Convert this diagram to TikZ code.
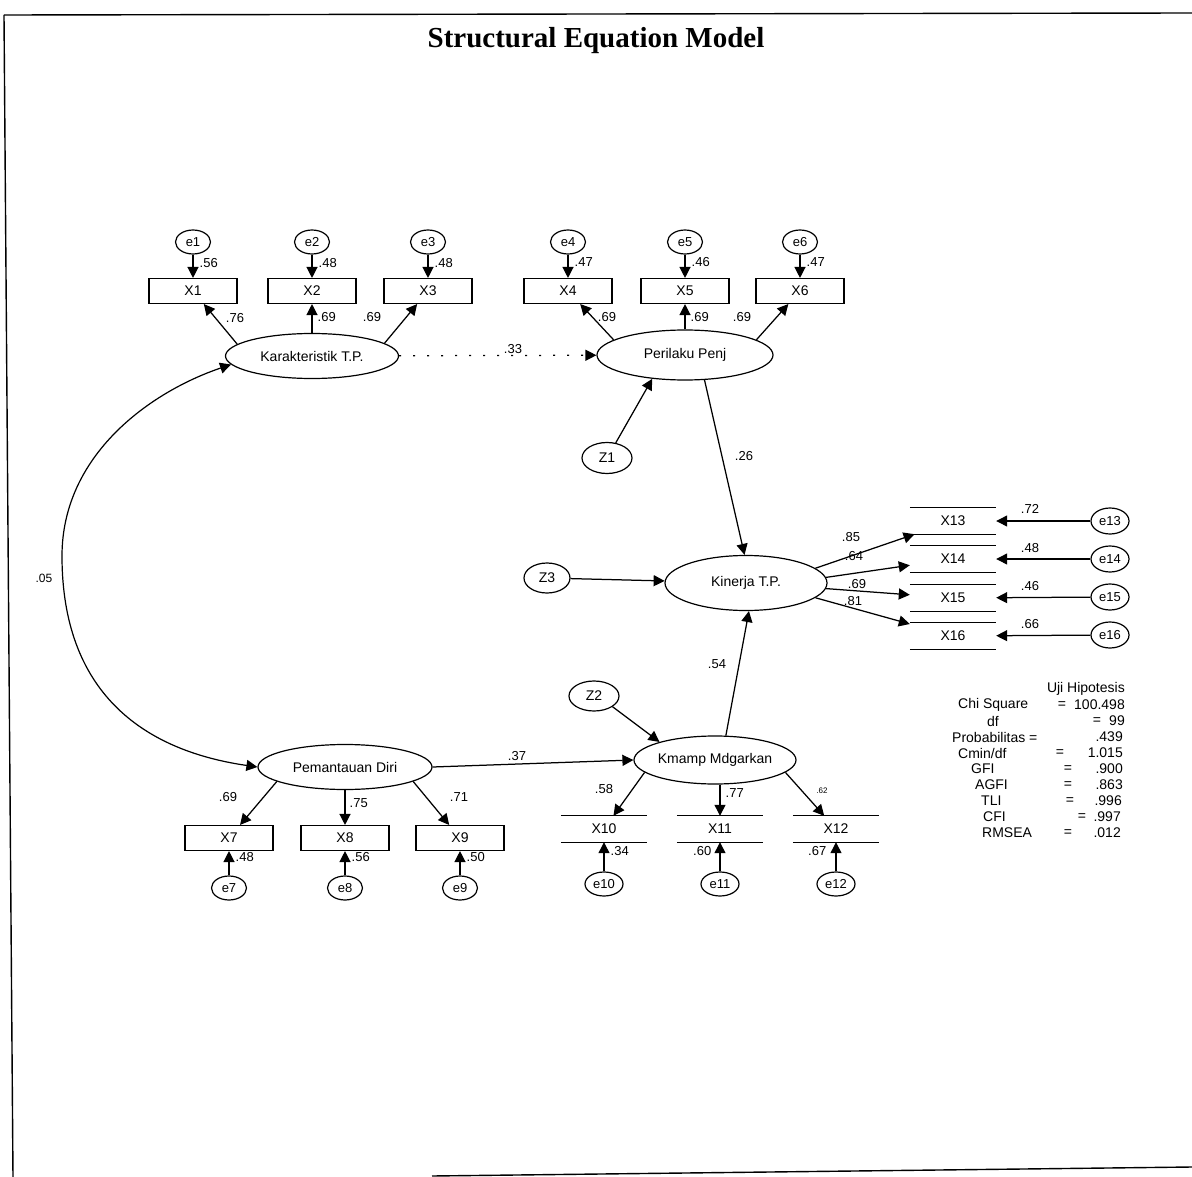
\documentclass[tikz,border=0pt]{standalone}
\usepackage{fontspec}
\setmainfont{Liberation Sans}
\newfontfamily\titlefont{Liberation Serif}
\usetikzlibrary{arrows.meta,shapes.geometric}

\tikzset{
  lat/.style={ellipse, draw, line width=1.2pt, inner sep=0pt, font=\fontsize{14}{16}\selectfont},
  obs/.style={rectangle, draw, line width=1.1pt, minimum width=88pt, minimum height=25pt, inner sep=0pt, font=\fontsize{14}{16}\selectfont},
  obsopen/.style={rectangle, minimum width=86pt, minimum height=26pt, inner sep=0pt, font=\fontsize{14}{16}\selectfont},
  boxedge/.style={line width=1.1pt},
  err/.style={ellipse, draw, line width=1.2pt, minimum width=35pt, minimum height=24pt, inner sep=0pt, font=\fontsize{13}{15}\selectfont},
  dist/.style={ellipse, draw, line width=1.2pt, minimum width=50pt, minimum height=31pt, inner sep=0pt, font=\fontsize{14}{16}\selectfont},
  pth/.style={line width=1.25pt, -{Triangle[length=11pt,width=11pt]}},
  cov/.style={line width=1.2pt, {Triangle[length=11pt,width=11pt]}-{Triangle[length=11pt,width=11pt]}},
  est/.style={font=\fontsize{13}{15}\selectfont, inner sep=0.5pt},
  fitline/.style={font=\fontsize{14}{16}\selectfont, inner sep=0pt},
  frameline/.style={line width=1.4pt}
}

\begin{document}
\begin{tikzpicture}[x=1pt,y=-1pt]
\useasboundingbox (0,0) rectangle (1192,1177);

% page frame
\draw[frameline] (4,15) -- (1192,13);
\draw[frameline] (4,15) -- (13,1177);
\draw[frameline] (432,1176) -- (1192,1167);

% title
\node[font=\titlefont\bfseries\fontsize{29}{32}\selectfont] (title) at (596,41) {Structural Equation Model};

% ---------- latent variables ----------
\node[lat, minimum width=173pt, minimum height=45pt] (kar) at (312,356) {Karakteristik T.P.};
\node[lat, minimum width=176pt, minimum height=50pt] (per) at (685,355) {Perilaku Penj};
\node[lat, minimum width=162pt, minimum height=55pt] (kin) at (746,583) {Kinerja T.P.};
\node[lat, minimum width=162pt, minimum height=48pt] (kmp) at (715,760) {Kmamp Mdgarkan};
\node[lat, minimum width=174pt, minimum height=45pt] (pem) at (345,767) {Pemantauan Diri};

% disturbances
\node[dist] (z1) at (607,458) {Z1};
\node[dist, minimum width=46pt, minimum height=30pt] (z3) at (547,578) {Z3};
\node[dist, minimum height=30pt] (z2) at (594,696) {Z2};

% ---------- indicators, top row ----------
\node[obs] (x1) at (193,291) {X1};
\node[obs] (x2) at (312,291) {X2};
\node[obs] (x3) at (428,291) {X3};
\node[obs] (x4) at (568,291) {X4};
\node[obs] (x5) at (685,291) {X5};
\node[obs] (x6) at (800,291) {X6};
\node[err] (e1) at (193,242) {e1};
\node[err] (e2) at (312,242) {e2};
\node[err] (e3) at (428,242) {e3};
\node[err] (e4) at (568,242) {e4};
\node[err] (e5) at (685,242) {e5};
\node[err] (e6) at (800,242) {e6};

% ---------- indicators, right column ----------
\node[obsopen] (x13) at (953,521) {X13};
\node[obsopen] (x14) at (953,559) {X14};
\node[obsopen] (x15) at (953,598) {X15};
\node[obsopen] (x16) at (953,636) {X16};
\node[err, minimum width=38pt, minimum height=26pt] (e13) at (1110,521) {e13};
\node[err, minimum width=38pt, minimum height=26pt] (e14) at (1110,559) {e14};
\node[err, minimum width=38pt, minimum height=26pt] (e15) at (1110,597) {e15};
\node[err, minimum width=38pt, minimum height=26pt] (e16) at (1110,635) {e16};

% ---------- indicators, bottom rows ----------
\node[obs] (x7) at (229,838) {X7};
\node[obs] (x8) at (345,838) {X8};
\node[obs] (x9) at (460,838) {X9};
\node[err] (e7) at (229,888) {e7};
\node[err] (e8) at (345,888) {e8};
\node[err] (e9) at (460,888) {e9};

\node[obsopen] (x10) at (604,829) {X10};
\node[obsopen] (x11) at (720,829) {X11};
\node[obsopen] (x12) at (836,829) {X12};
\node[err, minimum width=38pt] (e10) at (604,884) {e10};
\node[err, minimum width=38pt] (e11) at (720,884) {e11};
\node[err, minimum width=38pt] (e12) at (836,884) {e12};

% open-sided boxes: only top and bottom edges
\foreach \b in {x10,x11,x12,x13,x14,x15,x16}
  \draw[boxedge] (\b.north west) -- (\b.north east) (\b.south west) -- (\b.south east);

% ---------- measurement paths ----------
\foreach \e/\x in {e1/x1,e2/x2,e3/x3,e4/x4,e5/x5,e6/x6,e7/x7,e8/x8,e9/x9,
                   e10/x10,e11/x11,e12/x12,e13/x13,e14/x14,e15/x15,e16/x16}
  \draw[pth] (\e) -- (\x);

\draw[pth] (kar.171) -- (x1);
\draw[pth] (x2 |- kar.north) -- (x2);
\draw[pth] (kar.10) -- (x3);
\draw[pth] (per.168) -- (x4);
\draw[pth] (x5 |- per.north) -- (x5);
\draw[pth] (per.12) -- (x6);

\draw[pth] (pem.192) -- (x7);
\draw[pth] (x8 |- pem.south) -- (x8);
\draw[pth] (pem.-12) -- (x9);

\draw[pth] (kmp.190) -- (x10);
\draw[pth] (x11 |- kmp.south) -- (x11);
\draw[pth] (kmp.-10) -- (x12);

\draw[pth] (kin.12) -- (x13);
\draw[pth] (kin.4) -- (x14);
\draw[pth] (kin.-4) -- (x15);
\draw[pth] (kin.-12) -- (x16);

% ---------- structural paths ----------
\draw[pth, dash pattern=on 2pt off 12pt] (kar) -- (per);
\draw[pth] (z1.60) -- (per.216);
\draw[pth] (per.-52) -- (kin.93);
\draw[pth] (z3) -- (kin);
\draw[pth] (kmp.66) -- (kin.-84);
\draw[pth] (z2.-30) -- (kmp.162);
\draw[pth] (pem.east) -- (kmp.west);

% correlation between the exogenous constructs
\coordinate (cv) at (62,556);
\draw[cov] (kar.186) .. controls (150,392) and (62,455) .. (cv)
                     .. controls (62,690) and (140,750) .. (pem.west);

% ---------- estimates ----------
\node[est, anchor=west] (l-e1) at (199,263) {.56};
\node[est, anchor=west] (l-e2) at (318,263) {.48};
\node[est, anchor=west] (l-e3) at (434,263) {.48};
\node[est, anchor=west] (l-e4) at (574,262) {.47};
\node[est, anchor=west] (l-e5) at (691,262) {.46};
\node[est, anchor=west] (l-e6) at (806,262) {.47};

\node[est] (l-x1) at (235,318) {.76};
\node[est, anchor=west] (l-x2) at (317,317) {.69};
\node[est] (l-x3) at (372,317) {.69};
\node[est] (l-x4) at (607,317) {.69};
\node[est, anchor=west] (l-x5) at (690,317) {.69};
\node[est] (l-x6) at (742,317) {.69};

\node[est] (l-kp) at (513,349) {.33};
\node[est] (l-pk) at (744,456) {.26};
\node[est] (l-mk) at (717,664) {.54};
\node[est] (l-pm) at (517,756) {.37};
\node[est, font=\fontsize{12}{14}\selectfont] (l-cv) at (44,578) {.05};

\node[est] (l-x13) at (851,537) {.85};
\node[est] (l-x14) at (854,556) {.64};
\node[est] (l-x15) at (857,584) {.69};
\node[est] (l-x16) at (853,601) {.81};
\node[est] (l-e13) at (1030,509) {.72};
\node[est] (l-e14) at (1030,548) {.48};
\node[est] (l-e15) at (1030,586) {.46};
\node[est] (l-e16) at (1030,624) {.66};

\node[est] (l-x7) at (228,797) {.69};
\node[est, anchor=west] (l-x8) at (349,803) {.75};
\node[est] (l-x9) at (459,797) {.71};
\node[est, anchor=west] (l-e7) at (235,857) {.48};
\node[est, anchor=west] (l-e8) at (351,857) {.56};
\node[est, anchor=west] (l-e9) at (466,857) {.50};

\node[est] (l-x10) at (604,789) {.58};
\node[est, anchor=west] (l-x11) at (725,793) {.77};
\node[est, font=\fontsize{8}{9}\selectfont] (l-x12) at (822,791) {.62};
\node[est, anchor=west] (l-e10) at (610,851) {.34};
\node[est, anchor=east] (l-e11) at (712,851) {.60};
\node[est, anchor=east] (l-e12) at (827,851) {.67};

% ---------- fit statistics ----------
\node[fitline, anchor=east] (uji) at (1125,689) {Uji Hipotesis};
\node[fitline, anchor=west] (chi-l) at (958,705) {Chi Square};
\node[fitline] (chi-e) at (1062,705) {=};
\node[fitline, anchor=east] (chi-v) at (1125,705) {100.498};
\node[fitline] (df-l) at (993,721) {df};
\node[fitline] (df-e) at (1097,721) {=};
\node[fitline, anchor=east] (df-v) at (1125,721) {99};
\node[fitline, anchor=west] (prob-l) at (952,737) {Probabilitas =};
\node[fitline, anchor=east] (prob-v) at (1123,737) {.439};
\node[fitline, anchor=west] (cmin-l) at (958,753) {Cmin/df};
\node[fitline] (cmin-e) at (1060,753) {=};
\node[fitline, anchor=east] (cmin-v) at (1123,753) {1.015};
\node[fitline, anchor=west] (gfi-l) at (971,769) {GFI};
\node[fitline] (gfi-e) at (1068,769) {=};
\node[fitline, anchor=east] (gfi-v) at (1123,769) {.900};
\node[fitline, anchor=west] (agfi-l) at (975,785) {AGFI};
\node[fitline] (agfi-e) at (1068,785) {=};
\node[fitline, anchor=east] (agfi-v) at (1123,785) {.863};
\node[fitline, anchor=west] (tli-l) at (981,801) {TLI};
\node[fitline] (tli-e) at (1070,801) {=};
\node[fitline, anchor=east] (tli-v) at (1122,801) {.996};
\node[fitline, anchor=west] (cfi-l) at (983,817) {CFI};
\node[fitline] (cfi-e) at (1082,817) {=};
\node[fitline, anchor=east] (cfi-v) at (1121,817) {.997};
\node[fitline, anchor=west] (rmsea-l) at (982,833) {RMSEA};
\node[fitline] (rmsea-e) at (1068,833) {=};
\node[fitline, anchor=east] (rmsea-v) at (1121,833) {.012};
\end{tikzpicture}
\end{document}
